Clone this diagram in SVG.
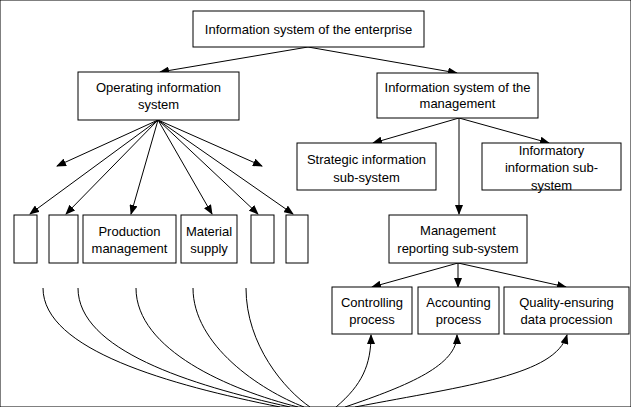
<svg xmlns="http://www.w3.org/2000/svg" width="631" height="407" viewBox="0 0 631 407">
<style>
rect{fill:#fff;stroke:#000;stroke-width:1}
text{font-family:"Liberation Sans",Arial,sans-serif;font-size:13px;fill:#000;text-anchor:middle}
.c{fill:none;stroke:#000;stroke-width:1}
</style>
<defs>
<marker id="ah" markerUnits="userSpaceOnUse" markerWidth="10" markerHeight="8" refX="9" refY="4" orient="auto">
<path d="M0,0 L10,4 L0,8 Z" fill="#000"/>
</marker>
</defs>
<rect width="631" height="407" fill="#fff" stroke="none"/>
<g id="connectors">
<line class="c" x1="308" y1="47" x2="160" y2="72" marker-end="url(#ah)"/>
<line class="c" x1="308" y1="47" x2="457" y2="73" marker-end="url(#ah)"/>
<line class="c" x1="158" y1="120" x2="57" y2="166" marker-end="url(#ah)"/>
<line class="c" x1="158" y1="120" x2="262" y2="166" marker-end="url(#ah)"/>
<line class="c" x1="158" y1="120" x2="30" y2="214" marker-end="url(#ah)"/>
<line class="c" x1="158" y1="120" x2="66" y2="214" marker-end="url(#ah)"/>
<line class="c" x1="158" y1="120" x2="131" y2="214" marker-end="url(#ah)"/>
<line class="c" x1="158" y1="120" x2="212" y2="214" marker-end="url(#ah)"/>
<line class="c" x1="158" y1="120" x2="258" y2="214" marker-end="url(#ah)"/>
<line class="c" x1="158" y1="120" x2="293" y2="214" marker-end="url(#ah)"/>
<line class="c" x1="459" y1="118" x2="373" y2="143" marker-end="url(#ah)"/>
<line class="c" x1="459" y1="118" x2="549" y2="143" marker-end="url(#ah)"/>
<line class="c" x1="459" y1="118" x2="459" y2="214" marker-end="url(#ah)"/>
<line class="c" x1="458" y1="263" x2="372" y2="287" marker-end="url(#ah)"/>
<line class="c" x1="458" y1="263" x2="458" y2="287" marker-end="url(#ah)"/>
<line class="c" x1="458" y1="263" x2="566" y2="287" marker-end="url(#ah)"/>
<path class="c" d="M43,288 C43,350 170,385 280,407"/>
<path class="c" d="M78,288 C78,350 190,385 290,407"/>
<path class="c" d="M136,288 C136,350 230,390 298,407"/>
<path class="c" d="M193,288 C193,345 260,390 304,407"/>
<path class="c" d="M246,288 C246,345 285,390 310,407"/>
<path class="c" d="M336,407 C362,385 371,365 371,335" marker-end="url(#ah)"/>
<path class="c" d="M345,407 C410,385 457,365 457,335" marker-end="url(#ah)"/>
<path class="c" d="M355,407 C470,385 555,375 567,335" marker-end="url(#ah)"/>
</g>
<g id="root"><rect x="193" y="11" width="231" height="36"/><text x="308.5" y="34">Information system of the enterprise</text></g>
<g id="operating"><rect x="78" y="72" width="161" height="48"/><text x="158.5" y="92">Operating information</text><text x="158.5" y="109">system</text></g>
<g id="management"><rect x="377" y="73" width="161" height="45"/><text x="457.5" y="92">Information system of the</text><text x="457.5" y="108">management</text></g>
<g id="strategic"><rect x="297" y="143" width="139" height="47"/><text x="366.5" y="164">Strategic information</text><text x="366.5" y="182">sub-system</text></g>
<g id="informatory"><rect x="482" y="143" width="139" height="47"/><text x="551.5" y="155">Informatory</text><text x="551.5" y="172">information sub-</text><text x="551.5" y="190">system</text></g>
<g id="reporting"><rect x="389" y="215" width="138" height="48"/><text x="458" y="235">Management</text><text x="458" y="253">reporting sub-system</text></g>
<g id="controlling"><rect x="332" y="287" width="80" height="47"/><text x="372" y="307">Controlling</text><text x="372" y="324">process</text></g>
<g id="accounting"><rect x="418" y="287" width="81" height="47"/><text x="458.5" y="307">Accounting</text><text x="458.5" y="324">process</text></g>
<g id="quality"><rect x="504" y="287" width="125" height="47"/><text x="566.5" y="307">Quality-ensuring</text><text x="566.5" y="324">data procession</text></g>
<g id="box1"><rect x="14" y="215" width="23" height="48"/></g>
<g id="box2"><rect x="49" y="215" width="29" height="48"/></g>
<g id="production"><rect x="83" y="215" width="93" height="48"/><text x="129.5" y="236">Production</text><text x="129.5" y="253">management</text></g>
<g id="material"><rect x="181" y="215" width="56" height="48"/><text x="209" y="236">Material</text><text x="209" y="253">supply</text></g>
<g id="box5"><rect x="251" y="215" width="23" height="48"/></g>
<g id="box6"><rect x="286" y="215" width="22" height="48"/></g>
</svg>
